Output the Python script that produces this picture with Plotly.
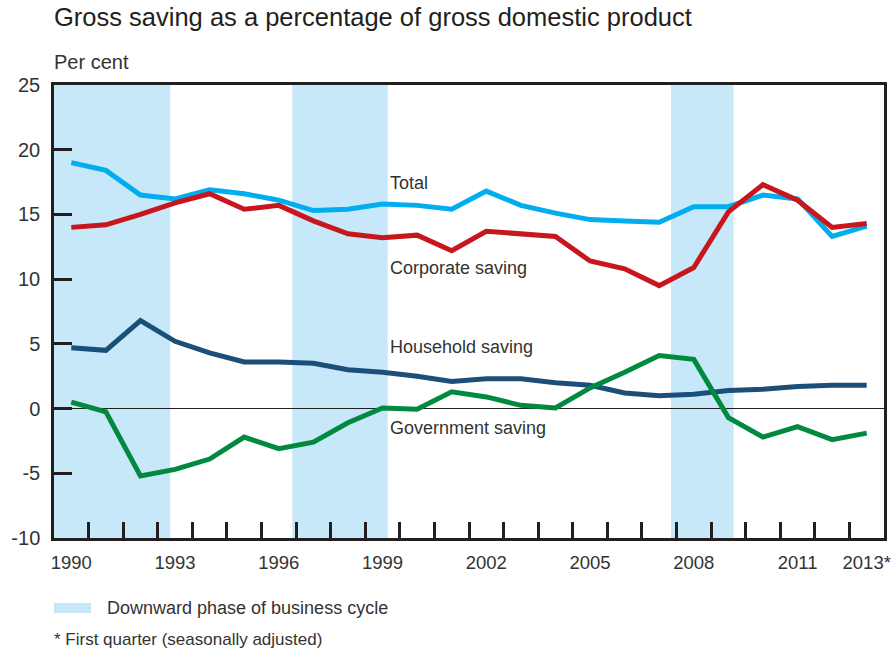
import plotly.graph_objects as go

years = list(range(1990, 2014))
total = [19.0, 18.4, 16.5, 16.2, 16.9, 16.6, 16.1, 15.3, 15.4, 15.8, 15.7, 15.4, 16.8, 15.7,
         15.1, 14.6, 14.5, 14.4, 15.6, 15.6, 16.5, 16.2, 13.3, 14.1]
corporate = [14.0, 14.2, 15.0, 15.9, 16.6, 15.4, 15.7, 14.5, 13.5, 13.2, 13.4, 12.2, 13.7, 13.5,
             13.3, 11.4, 10.8, 9.5, 10.9, 15.2, 17.3, 16.1, 14.0, 14.3]
household = [4.7, 4.5, 6.8, 5.2, 4.3, 3.6, 3.6, 3.5, 3.0, 2.8, 2.5, 2.1, 2.3, 2.3,
             2.0, 1.8, 1.2, 1.0, 1.1, 1.4, 1.5, 1.7, 1.8, 1.8]
government = [0.5, -0.25, -5.2, -4.7, -3.9, -2.2, -3.1, -2.6, -1.1, 0.05, -0.05, 1.3, 0.9, 0.25,
              0.05, 1.6, 2.8, 4.1, 3.8, -0.7, -2.2, -1.4, -2.4, -1.9]

band_starts = [1989.5, 1996.39, 2007.34]
band_ends = [1992.86, 1999.15, 2009.15]

tick_years = [1990, 1993, 1996, 1999, 2002, 2005, 2008, 2011, 2013]
tick_text = ["1990", "1993", "1996", "1999", "2002", "2005", "2008", "2011", "2013*"]
minor_ticks = [y + 0.5 for y in range(1990, 2013)]
y_ticks = [-10, -5, 0, 5, 10, 15, 20, 25]
y_tick_text = ["-10", "-5", "0", "5", "10", "15", "20", "25"]

series = [
    ("Total", total, "#00AEEF"),
    ("Corporate saving", corporate, "#C8161D"),
    ("Household saving", household, "#1B4F7A"),
    ("Government saving", government, "#00893F"),
]
label_y = {"Total": 17.45, "Corporate saving": 10.85, "Household saving": 4.75, "Government saving": -1.5}
label_x = 1999.15

FONT = "Liberation Sans, Arial, sans-serif"
TXT = "#333333"
AX = "#231F20"

fig = go.Figure()
for name, vals, col in series:
    fig.add_trace(go.Scatter(x=years, y=vals, mode="lines", name=name,
                             line=dict(color=col, width=5), showlegend=False,
                             hoverinfo="skip"))
    fig.add_annotation(x=label_x, y=label_y[name], text=name, showarrow=False,
                       xanchor="left", yanchor="middle",
                       font=dict(family=FONT, size=18, color=TXT))

for s, e in zip(band_starts, band_ends):
    fig.add_shape(type="rect", xref="x", yref="paper", x0=s, x1=e, y0=0, y1=1,
                  fillcolor="#C7E8F8", line=dict(width=0), layer="below")

L, R, T, B = 54, 884, 85, 538
W, H = 891, 653
def px(x):
    return (x - L) / (R - L)
def py(y):
    return (B - y) / (B - T)

# legend swatch + text
fig.add_shape(type="rect", xref="paper", yref="paper", x0=px(54), x1=px(91), y0=py(613), y1=py(603),
              fillcolor="#C7E8F8", line=dict(width=0))
fig.add_annotation(xref="paper", yref="paper", x=px(105), y=py(608), text="Downward phase of business cycle",
                   showarrow=False, xanchor="left", yanchor="middle",
                   font=dict(family=FONT, size=18, color=TXT))
fig.add_annotation(xref="paper", yref="paper", x=px(52), y=py(639), text="* First quarter (seasonally adjusted)",
                   showarrow=False, xanchor="left", yanchor="middle",
                   font=dict(family=FONT, size=17, color=TXT))
fig.add_annotation(xref="paper", yref="paper", x=px(52), y=py(17),
                   text="Gross saving as a percentage of gross domestic product",
                   showarrow=False, xanchor="left", yanchor="middle",
                   font=dict(family=FONT, size=25.5, color="#231F20"))
fig.add_annotation(xref="paper", yref="paper", x=px(52), y=py(62), text="Per cent",
                   showarrow=False, xanchor="left", yanchor="middle",
                   font=dict(family=FONT, size=20, color=TXT))

fig.update_layout(
    width=W, height=H,
    margin=dict(l=L, r=W - R, t=T, b=H - B, autoexpand=False),
    plot_bgcolor="white", paper_bgcolor="white",
    font=dict(family=FONT, size=20, color=TXT),
    xaxis=dict(range=[1989.5, 2013.5], tickmode="array", tickvals=tick_years, ticktext=tick_text,
               ticks="", showgrid=False, zeroline=False, showline=True, linecolor=AX, linewidth=2.5,
               mirror=True, automargin=False, ticklabelstandoff=6, ticklabeloverflow="allow",
               tickfont=dict(family=FONT, size=18.5, color=TXT),
               minor=dict(tickmode="array", tickvals=minor_ticks, ticks="inside", ticklen=16,
                          tickwidth=2.5, tickcolor=AX, showgrid=False)),
    yaxis=dict(range=[-10, 25], tickmode="array", tickvals=y_ticks, ticktext=y_tick_text,
               ticks="inside", ticklen=18, automargin=False, ticklabeloverflow="allow",
               tickwidth=2.5, tickcolor=AX, showgrid=False, zeroline=True, zerolinecolor="#231F20",
               zerolinewidth=1, showline=True, linecolor=AX, linewidth=2.5, mirror=True,
               tickfont=dict(family=FONT, size=20, color=TXT), ticklabelstandoff=7),
)

fig.write_html("out.html", config={"displayModeBar": False},
               post_script="document.body.style.margin='0';")
